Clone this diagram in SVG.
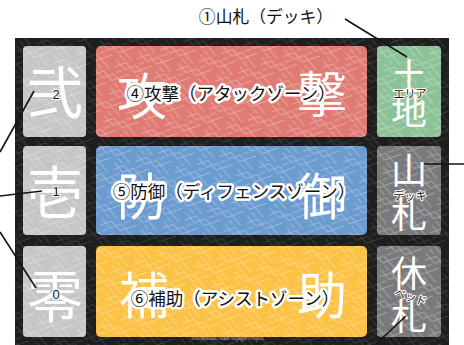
<svg xmlns="http://www.w3.org/2000/svg" width="464" height="345" viewBox="0 0 464 345">
<style>
text{font-family:"Noto Sans CJK JP","Noto Sans",sans-serif}
.big{fill:#fff;font-size:50px;text-anchor:middle;dominant-baseline:central}
.side{fill:#fff;font-size:56px;text-anchor:middle;dominant-baseline:central}
.rk{fill:#fff;font-size:36px;text-anchor:middle;dominant-baseline:central}
.lbl{fill:#111;font-size:17.5px;text-anchor:middle;dominant-baseline:central;stroke:#fff;stroke-width:5px;stroke-linejoin:round;paint-order:stroke}
.sm{fill:#111;font-size:11px;text-anchor:middle;dominant-baseline:central;stroke:#fff;stroke-width:2px;stroke-linejoin:round;paint-order:stroke}
.num{fill:#111;font-size:13px;text-anchor:middle;dominant-baseline:central;font-family:"Liberation Sans",sans-serif;stroke:#fff;stroke-width:2px;paint-order:stroke}
.cell{stroke:none}
.pat{fill:url(#saya)}
.conn line{stroke:#151515;stroke-width:1.6}
</style>
<defs>
<pattern id="saya" width="24" height="24" patternUnits="userSpaceOnUse" patternTransform="rotate(-20) skewX(20)">
<path d="M0 6H12V18H24M6 0V12H18V24M0 18H6M18 0V6M12 0V3M12 21V24M0 12H3M21 12H24" fill="none" stroke="#fff" stroke-opacity="0.34" stroke-width="1"/>
</pattern>
<pattern id="sayad" width="24" height="24" patternUnits="userSpaceOnUse" patternTransform="rotate(-20) skewX(20)">
<path d="M0 6H12V18H24M6 0V12H18V24M0 18H6M18 0V6M12 0V3M12 21V24M0 12H3M21 12H24" fill="none" stroke="#fff" stroke-opacity="0.14" stroke-width="1"/>
</pattern>
</defs>
<rect x="0" y="0" width="464" height="345" fill="#fff"/>
<g id="board">
<rect x="15" y="38" width="434" height="307" fill="#1e1e1e"/>
<rect x="15" y="38" width="434" height="307" fill="url(#sayad)"/>
</g>
<g id="zone-2">
<rect class="cell" x="23" y="46" width="63" height="91" rx="4" fill="#c6c6c6"/>
<rect class="pat" x="23" y="46" width="63" height="91" rx="4"/>
<text class="side" x="55" y="88">弐</text>
<text class="num" x="56" y="94">2</text>
</g>
<g id="zone-1">
<rect class="cell" x="23" y="146" width="63" height="89" rx="4" fill="#c6c6c6"/>
<rect class="pat" x="23" y="146" width="63" height="89" rx="4"/>
<text class="side" x="55" y="188">壱</text>
<text class="num" x="56" y="191">1</text>
</g>
<g id="zone-0">
<rect class="cell" x="23" y="246" width="63" height="91" rx="4" fill="#c6c6c6"/>
<rect class="pat" x="23" y="246" width="63" height="91" rx="4"/>
<text class="side" x="55" y="292">零</text>
<text class="num" x="56" y="294">0</text>
</g>
<g id="attack-zone">
<rect class="cell" x="96" y="46" width="271" height="91" rx="5" fill="#df7b73"/>
<rect class="pat" x="96" y="46" width="271" height="91" rx="5"/>
<text class="big" x="142" y="93">攻</text>
<text class="big" x="322" y="91">撃</text>
<text class="lbl" x="231" y="92">④攻撃（アタックゾーン）</text>
</g>
<g id="defense-zone">
<rect class="cell" x="96" y="146" width="271" height="89" rx="5" fill="#6b9bcf"/>
<rect class="pat" x="96" y="146" width="271" height="89" rx="5"/>
<text class="big" x="142" y="193">防</text>
<text class="big" x="322" y="193">御</text>
<text class="lbl" x="234" y="190">⑤防御（ディフェンスゾーン）</text>
</g>
<g id="assist-zone">
<rect class="cell" x="96" y="246" width="271" height="91" rx="5" fill="#fbc246"/>
<rect class="pat" x="96" y="246" width="271" height="91" rx="5"/>
<text class="big" x="144" y="292">補</text>
<text class="big" x="322" y="292">助</text>
<text class="lbl" x="235" y="297">⑥補助（アシストゾーン）</text>
</g>
<g id="land-area">
<rect class="cell" x="377" y="46" width="64" height="91" rx="4" fill="#8cc298"/>
<rect class="pat" x="377" y="46" width="64" height="91" rx="4"/>
<text class="rk" x="409" y="74">土</text>
<text class="rk" x="409" y="109">地</text>
<text class="sm" x="410" y="93">エリア</text>
</g>
<g id="deck">
<rect class="cell" x="377" y="146" width="64" height="89" rx="4" fill="#7a7a7c"/>
<rect class="pat" x="377" y="146" width="64" height="89" rx="4"/>
<text class="rk" x="409" y="168">山</text>
<text class="rk" x="409" y="212">札</text>
<text class="sm" x="410" y="195">デッキ</text>
</g>
<g id="bed">
<rect class="cell" x="377" y="246" width="64" height="91" rx="4" fill="#7a7a7c"/>
<rect class="pat" x="377" y="246" width="64" height="91" rx="4"/>
<text class="rk" x="409" y="271">休</text>
<text class="rk" x="409" y="314">札</text>
<text class="sm" x="411" y="296" transform="rotate(18 411 296)">ベッド</text>
</g>
<g id="deck-callout">
<text x="266" y="16" font-size="16.8" fill="#111" text-anchor="middle" dominant-baseline="central">①山札（デッキ）</text>
</g>
<g id="credit">
<text x="228" y="340" font-size="4.5" fill="#bbb" text-anchor="middle" font-family="Liberation Sans,sans-serif">©Bushiroad/Team Voyager Project.</text>
</g>
<g id="connectors" class="conn">
<line x1="345" y1="19" x2="407" y2="57"/>
<line x1="0" y1="152" x2="34" y2="91"/>
<line x1="0" y1="196" x2="42" y2="191"/>
<line x1="0" y1="232" x2="36" y2="288"/>
<line x1="424" y1="164" x2="464" y2="164"/>
<line x1="376" y1="344" x2="406" y2="316"/>
</g>
</svg>
